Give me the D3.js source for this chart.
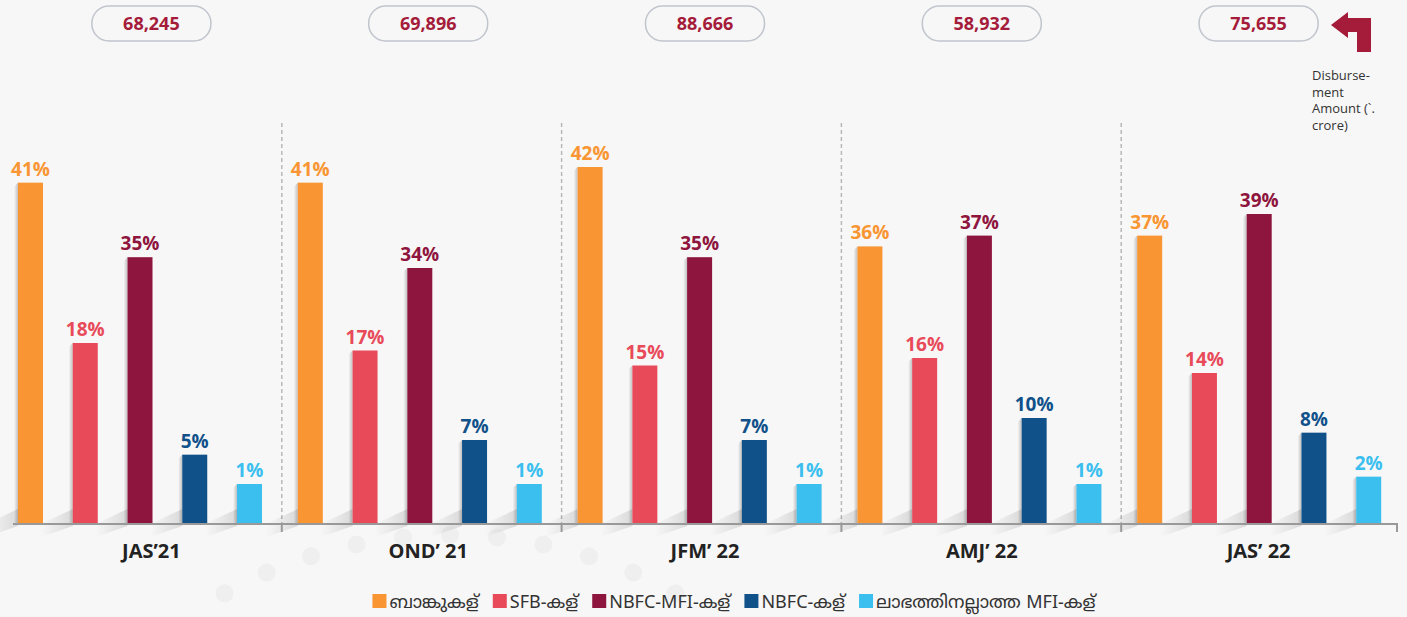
<!DOCTYPE html>
<html>
<head>
<meta charset="utf-8">
<script src="https://cdn.jsdelivr.net/npm/d3@7"></script>
<style>
  html, body { margin: 0; padding: 0; background: #f7f7f7; }
  svg { display: block; }
  text { font-family: "Open Sans", "Noto Sans", sans-serif; }
</style>
</head>
<body>
<svg id="chart" width="1407" height="617"></svg>
<script>
// ---------- data ----------
const quarters = ["JAS’21", "OND’ 21", "JFM’ 22", "AMJ’ 22", "JAS’ 22"];
const disbursement = ["68,245", "69,896", "88,666", "58,932", "75,655"];
const seriesNames = ["ബാങ്കുകള്", "SFB-കള്", "NBFC-MFI-കള്", "NBFC-കള്", "ലാഭത്തിനല്ലാത്ത MFI-കള്"];
const banks    = [41, 41, 42, 36, 37];
const sfb      = [18, 17, 15, 16, 14];
const nbfcMfi  = [35, 34, 35, 37, 39];
const nbfc     = [5, 7, 7, 10, 8];
const nonProfit= [1, 1, 1, 1, 2];
const seriesValues = [banks, sfb, nbfcMfi, nbfc, nonProfit];
const colors = ["#f99532", "#e84a5a", "#8e153d", "#10518a", "#3bbfef"];
const noteLines = ["Disburse-", "ment", "Amount (`.", "crore)"];

// ---------- layout ----------
const W = 1407, H = 617;
const baseline = 523;
const svg = d3.select("#chart");
const defs = svg.append("defs");

svg.append("rect").attr("width", W).attr("height", H).attr("fill", "#f7f7f7");

// decorative faint dots along an arc
const dotG = svg.append("g");
d3.range(-5, 6).forEach(i => {
  const a = i * 5.8 * Math.PI / 180;
  dotG.append("circle")
    .attr("cx", 450 + 465 * Math.sin(a))
    .attr("cy", 1000 - 465 * Math.cos(a))
    .attr("r", 9).attr("fill", "#efefef");
});

// scales
const x0 = d3.scaleBand().domain(quarters).range([2, 1401]);      // group slots
const xl = d3.scaleBand().domain(quarters).range([13, 1397]);     // axis extent for labels / pills
const xi = d3.scalePoint().domain(seriesNames).range([16, 235]);  // bar left offset inside group
const barW = 25;
const hScale = d3.scaleLinear()
  .domain([0, 1, 10, 14, 18, 34, 39, 42])
  .range([0, 39, 105, 150, 180, 255, 309, 356]);

// gradients for shadows
const g1 = defs.append("linearGradient").attr("id", "sideShadow").attr("x1", 0).attr("x2", 1);
g1.append("stop").attr("offset", "0%").attr("stop-color", "#000").attr("stop-opacity", 0);
g1.append("stop").attr("offset", "100%").attr("stop-color", "#000").attr("stop-opacity", 0.22);
const g2 = defs.append("linearGradient").attr("id", "castShadow").attr("x1", 0).attr("x2", 1);
g2.append("stop").attr("offset", "0%").attr("stop-color", "#000").attr("stop-opacity", 0);
g2.append("stop").attr("offset", "100%").attr("stop-color", "#000").attr("stop-opacity", 0.12);

// dashed separators
const bounds = quarters.slice(1).map(q => x0(q));
svg.append("g").selectAll("line").data(bounds).join("line")
  .attr("x1", d => d).attr("x2", d => d)
  .attr("y1", 123).attr("y2", baseline)
  .attr("stroke", "#b8b8b8").attr("stroke-width", 1.5)
  .attr("stroke-dasharray", "4,3");

// bars
const rows = [];
quarters.forEach((q, qi) => {
  seriesNames.forEach((s, si) => {
    rows.push({ q, s, si, v: seriesValues[si][qi] });
  });
});

const barG = svg.append("g");
rows.forEach(d => {
  const x = x0(d.q) + xi(d.s);
  const h = hScale(d.v);
  const y = baseline - h;
  // cast shadow at the base
  barG.append("path")
    .attr("d", `M${x},${baseline - 14} L${x},${baseline + 3} L${x - 32},${baseline + 14} L${x - 32},${baseline + 1} Z`)
    .attr("fill", "url(#castShadow)");
  // side shadow
  barG.append("path")
    .attr("d", `M${x - 4},${y + 4} L${x},${y} L${x},${baseline} L${x - 4},${baseline} Z`)
    .attr("fill", "url(#sideShadow)");
  barG.append("rect")
    .attr("x", x).attr("y", y).attr("width", barW).attr("height", h)
    .attr("fill", colors[d.si]);
  barG.append("text")
    .attr("x", x + barW / 2).attr("y", y - 7)
    .attr("text-anchor", "middle")
    .attr("font-size", 19).attr("font-weight", 700)
    .attr("fill", colors[d.si])
    .text(d.v + "%");
});

// axis line and ticks
svg.append("line").attr("x1", 13).attr("x2", xl.range()[1]).attr("y1", baseline + 1).attr("y2", baseline + 1)
  .attr("stroke", "#999").attr("stroke-width", 2);
svg.append("g").selectAll("line").data(bounds.concat([xl.range()[1]])).join("line")
  .attr("x1", d => d).attr("x2", d => d)
  .attr("y1", baseline).attr("y2", baseline + 9)
  .attr("stroke", "#999").attr("stroke-width", 2);

const axis = svg.append("g")
  .attr("transform", `translate(0,${baseline})`)
  .call(d3.axisBottom(xl).tickSize(0).tickPadding(0));
axis.select(".domain").remove();
axis.selectAll("text")
  .attr("y", 35).attr("dy", 0)
  .attr("font-size", 20).attr("font-weight", 700)
  .attr("fill", "#222")
  .style("font-family", "'Open Sans', sans-serif");

// disbursement pills
const pillW = 119, pillH = 35;
const pills = svg.append("g").selectAll("g").data(quarters).join("g")
  .attr("transform", (q) => `translate(${xl(q) + xl.bandwidth() / 2},0)`);
pills.append("rect")
  .attr("x", -pillW / 2).attr("y", 6).attr("width", pillW).attr("height", pillH)
  .attr("rx", 17).attr("fill", "#f7f7f7")
  .attr("stroke", "#c1c5cd").attr("stroke-width", 1.5);
pills.append("text")
  .attr("x", 0).attr("y", 30)
  .attr("text-anchor", "middle")
  .attr("font-size", 18).attr("font-weight", 700)
  .attr("fill", "#a51c3a")
  .text((q, i) => disbursement[i]);

// arrow
svg.append("path")
  .attr("d", "M1331,25 L1348,12 L1348,18 L1371,18 L1371,52 L1357,52 L1357,32 L1348,32 L1348,38 Z")
  .attr("fill", "#a51c3a");

// note
svg.append("g").selectAll("text").data(noteLines).join("text")
  .attr("x", 1312).attr("y", (d, i) => 80 + i * 16.5)
  .attr("font-size", 13).attr("fill", "#333")
  .text(d => d);

// legend
const legend = svg.append("g");
let lx = 0;
seriesNames.forEach((s, i) => {
  const it = legend.append("g");
  it.append("rect").attr("x", 0).attr("y", -8).attr("width", 14).attr("height", 14).attr("fill", colors[i]);
  const t = it.append("text").attr("x", 17).attr("y", 6)
    .attr("font-size", 18)
    .attr("fill", "#333")
    .style("font-family", "'Liberation Sans Narrow', 'Noto Sans Malayalam', 'Open Sans', sans-serif")
    .text(s);
  const w = 17 + t.node().getComputedTextLength();
  it.attr("transform", `translate(${lx},0)`);
  lx += w + 14;
});
const totalW = lx - 14;
legend.attr("transform", `translate(${734 - totalW / 2},602)`);
</script>
</body>
</html>
